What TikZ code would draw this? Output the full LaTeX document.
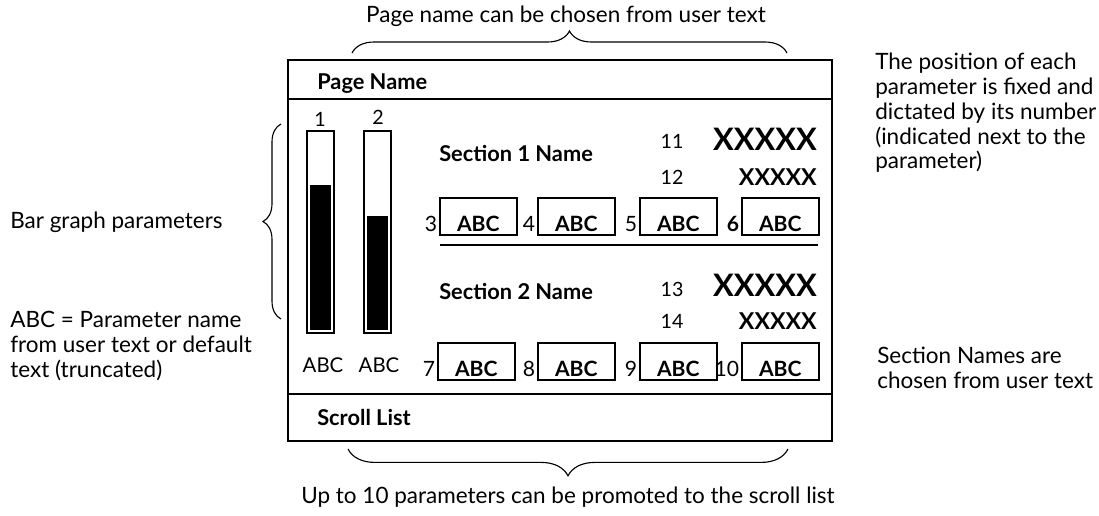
\documentclass[tikz,border=0pt]{standalone}
\usepackage{fontspec}
\setmainfont{Lato}
\usetikzlibrary{decorations.pathreplacing}

\begin{document}
\begin{tikzpicture}[x=0.025cm,y=-0.025cm,
  note/.style={font=\fontsize{16}{17.6}\selectfont,align=left,inner sep=0},
  title/.style={font=\bfseries\fontsize{15.5}{17}\selectfont,anchor=west,inner sep=0},
  num/.style={font=\fontsize{14}{16}\selectfont,inner sep=0},
  big/.style={font=\bfseries\fontsize{22}{24}\selectfont,inner sep=0,anchor=east},
  small/.style={font=\bfseries\fontsize{16.5}{18}\selectfont,inner sep=0,anchor=east},
  frame/.style={line width=1.1pt},
  pbox/.style={draw,line width=1.1pt,minimum width=1.925cm,minimum height=0.925cm,inner sep=0,anchor=north west},
  abc/.style={font=\bfseries\fontsize{15}{17}\selectfont,inner sep=0,anchor=base},
  curly/.style={decorate,line width=0.8pt}]

\useasboundingbox (0,0) rectangle (1099,515);

% screen
\draw[frame] (288,60) rectangle (832,441);
\draw[frame] (288,99) -- (832,99);
\draw[frame] (288,394) -- (832,394);
\node[title] (page) at (317,84) {Page Name};
\node[title] (scroll) at (317,417) {Scroll List};

% bar graphs
\draw[frame] (307,131) rectangle (334,333);
\fill (310,185) rectangle (331,330);
\draw[frame] (364,131) rectangle (391,333);
\fill (367,216) rectangle (388,330);
\node[num] (n1) at (320,119) {1};
\node[num] (n2) at (378,117) {2};
\node[num,font=\fontsize{14.5}{16}\selectfont] (bar1) at (323,365) {ABC};
\node[num,font=\fontsize{14.5}{16}\selectfont] (bar2) at (379,365) {ABC};

% sections
\node[title] (sec1) at (439,153) {Section 1 Name};
\node[title] (sec2) at (439,291) {Section 2 Name};
\draw[frame] (440,245) -- (818,245);

\node[num] (n11) at (672,141) {11};
\node[num] (n12) at (672,177) {12};
\node[num] (n13) at (672,289) {13};
\node[num] (n14) at (672,321) {14};
\node[big] (x11) at (817,139) {XXXXX};
\node[small] (x12) at (817,177) {XXXXX};
\node[big] (x13) at (817,285) {XXXXX};
\node[small] (x14) at (817,321) {XXXXX};

\foreach \n/\x/\y/\f in {3/439/197/\mdseries,4/537/197/\mdseries,5/639/197/\mdseries,6/741/197/\bfseries,
                         7/437/342/\mdseries,8/537/342/\mdseries,9/639/342/\mdseries,10/741/342/\mdseries}{
  \node[pbox] (b\n) at (\x,\y) {};
  \node[abc] at ([yshift=2.8pt]b\n.south) {ABC};
  \node[num,anchor=base east,font=\f\fontsize{15}{17}\selectfont] at ([xshift=-1.2pt,yshift=2.8pt]b\n.south west) {\n};
}

% notes
\node[note,anchor=base] (toptxt) at (566,22) {Page name can be chosen from user text};
\node[note,anchor=base] (bottxt) at (568,503) {Up to 10 parameters can be promoted to the scroll list};
\node[note,anchor=west] (bargr) at (10,222) {Bar graph parameters};
\node[note,anchor=north west] (abcnote) at (10,311) {ABC = Parameter name\\from user text or default\\text (truncated)};
\node[note,anchor=north west] (posnote) at (875,53) {The position of each\\parameter is fixed and\\dictated by its number\\(indicated next to the\\parameter)};
\node[note,anchor=north west] (secnote) at (877,347) {Section Names are\\chosen from user text};

% braces
\coordinate (tl) at (352,53);
\coordinate (tr) at (787,53);
\coordinate (bl) at (348,449);
\coordinate (br) at (788,449);
\coordinate (lt) at (281,124);
\coordinate (lb) at (281,319);
\draw[curly,decoration={brace,amplitude=0.55cm}] (tl) -- (tr);
\draw[curly,decoration={brace,amplitude=0.67cm}] (br) -- (bl);
\draw[curly,decoration={brace,amplitude=0.45cm}] (lb) -- (lt);

\end{tikzpicture}
\end{document}
